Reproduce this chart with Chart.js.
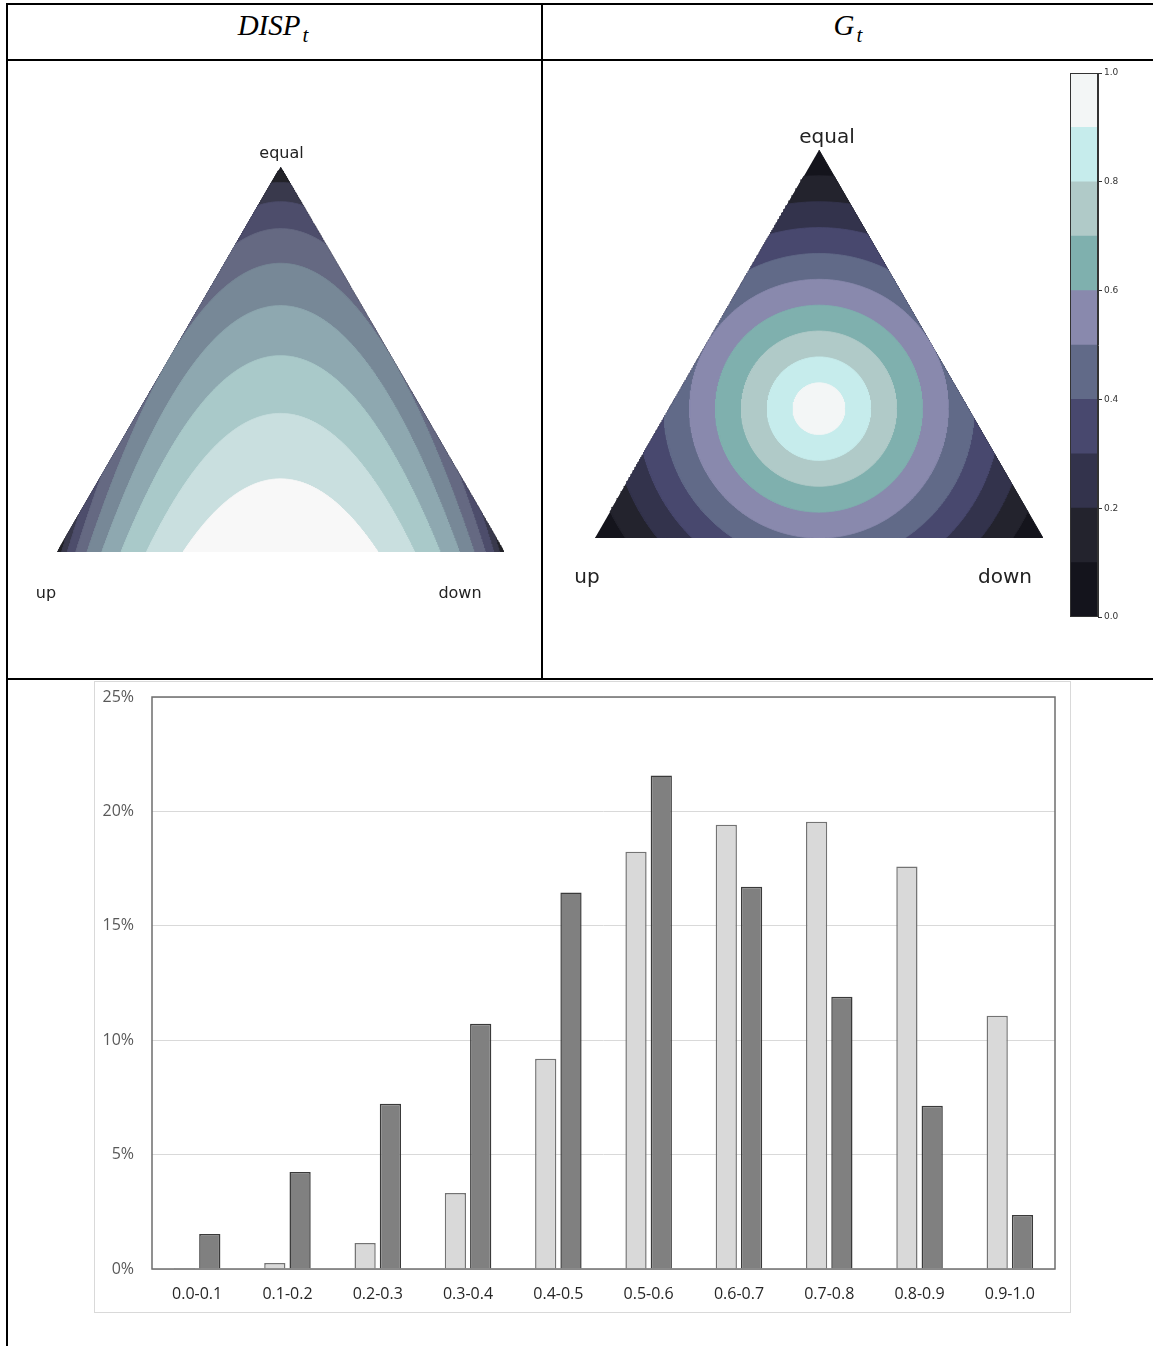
<!DOCTYPE html>
<html>
<head>
<meta charset="utf-8">
<script src="https://cdn.jsdelivr.net/npm/chart.js@4.4.1/dist/chart.umd.min.js"></script>
<style>
  html, body { margin: 0; padding: 0; background: #fff; }
  body { width: 1153px; height: 1346px; position: relative; overflow: hidden; }
  .rule { position: absolute; background: #000; }
  .pane { position: absolute; }
  .hdr { position: absolute; top: 9px; font-family: "Liberation Serif", "DejaVu Serif", serif;
         font-style: italic; font-size: 29px; line-height: 32px; color: #000; white-space: nowrap;
         transform: translateX(-50%); }
  .hdr sub { font-size: 21px; vertical-align: -7px; line-height: 0; margin-left: 2px; }
  .frame { position: absolute; left: 94px; top: 681px; width: 975px; height: 630px;
           border: 1px solid #d9d9d9; background: #fff; }
</style>
</head>
<body>
<!-- table rules -->
<div class="rule" style="left:6px;top:3px;width:1147px;height:2px"></div>
<div class="rule" style="left:6px;top:3px;width:2px;height:1343px"></div>
<div class="rule" style="left:541px;top:3px;width:2px;height:677px"></div>
<div class="rule" style="left:6px;top:59px;width:1147px;height:2px"></div>
<div class="rule" style="left:6px;top:678px;width:1147px;height:2px"></div>

<div class="hdr" style="left:273px">DISP<sub>t</sub></div>
<div class="hdr" style="left:848px">G<sub>t</sub></div>

<div class="pane" style="left:8px;top:62px"><canvas id="disp" width="532" height="616"></canvas></div>
<div class="pane" style="left:543px;top:62px"><canvas id="gini" width="517" height="616"></canvas></div>
<div class="pane" style="left:1062px;top:62px"><canvas id="cbar" width="90" height="570"></canvas></div>

<div class="frame"></div>
<div class="pane" style="left:95px;top:682px"><canvas id="bars" width="974" height="629"></canvas></div>

<script>
// ---- histogram data (share of observations, %) ----
const CATEGORIES = ['0.0-0.1', '0.1-0.2', '0.2-0.3', '0.3-0.4', '0.4-0.5',
                    '0.5-0.6', '0.6-0.7', '0.7-0.8', '0.8-0.9', '0.9-1.0'];
const SERIES_LIGHT = [0.04, 0.26, 1.14, 3.32, 9.19, 18.24, 19.42, 19.55, 17.59, 11.07];
const SERIES_DARK  = [1.53, 4.24, 7.22, 10.72, 16.45, 21.57, 16.71, 11.90, 7.13, 2.36];
const Y_TICKS = [0, 5, 10, 15, 20, 25];

// ---- contour levels and fill colours for the two ternary maps ----
const DISP_LEVELS = [0.0, 0.1, 0.2, 0.3, 0.4, 0.5, 0.6, 0.7, 0.8, 0.9];
const DISP_COLORS = ['#1b1b22', '#222228', '#39394c', '#4d4d6b', '#656982',
                     '#778897', '#8ea8b0', '#a9c9c9', '#c9dfdf', '#f8f8f8'];
const G_LEVELS = [0.0, 0.1, 0.2, 0.3, 0.4, 0.5, 0.6, 0.7, 0.8, 0.9];
const G_COLORS = ['#14141c', '#23232d', '#33334c', '#48486e', '#616a88',
                  '#8989ad', '#7fb0ae', '#b0cac8', '#c6ecec', '#f3f6f6'];
const CBAR_TICKS = [0.0, 0.2, 0.4, 0.6, 0.8, 1.0];
const VERTEX_LABELS = ['equal', 'up', 'down'];

const SQ3 = Math.sqrt(3);

// ternary (up, down, equal) -> plane; up bottom-left, down bottom-right, equal on top
function toXY(u, d, e) { return { x: d + e / 2, y: e * SQ3 / 2 }; }

const TRIANGLE = [toXY(1, 0, 0), toXY(0, 1, 0), toXY(0, 0, 1)];

// DISP = standard deviation of {+1 up, -1 down, 0 equal} = sqrt((u+d) - (u-d)^2).
// With s = u+d and w = u-d the region DISP >= L is |w| <= min(s, sqrt(s - L^2)).
function dispRegion(L) {
  if (L <= 0) return TRIANGLE.slice();
  const c = L * L, n = 700;
  const at = (s, w) => toXY((s + w) / 2, (s - w) / 2, 1 - s);
  const half = tau => {
    const s = c + (1 - c) * tau * tau;
    return [s, Math.min(s, Math.sqrt(Math.max(0, s - c)))];
  };
  const pts = [];
  for (let i = n; i >= 0; i--) { const [s, w] = half(i / n); pts.push(at(s, w)); }
  for (let i = 1; i <= n; i++) { const [s, w] = half(i / n); pts.push(at(s, -w)); }
  return pts;
}

// G = 1 - r/R (r: distance from the centroid, R: centroid-to-vertex); region G >= L
function giniRegion(L) {
  if (L <= 0) return TRIANGLE.slice();
  const cx = 0.5, cy = SQ3 / 6, inr = SQ3 / 6, R = 1 / SQ3;
  const rad = (1 - L) * R, normals = [-Math.PI / 2, Math.PI / 6, 5 * Math.PI / 6];
  const pts = [], n = 1440;
  for (let i = 0; i < n; i++) {
    const t = 2 * Math.PI * i / n;
    let m = -1;
    for (const p of normals) m = Math.max(m, Math.cos(t - p));
    const r = Math.min(rad, inr / m);
    pts.push({ x: cx + r * Math.cos(t), y: cy + r * Math.sin(t) });
  }
  return pts;
}

function ternaryChart(id, levels, colors, regionFn, pad, lab) {
  const datasets = levels.map((L, k) => ({
    data: regionFn(L),
    showLine: true,
    fill: 'shape',
    backgroundColor: colors[k],
    borderColor: colors[k],
    borderWidth: 1,
    pointRadius: 0,
    order: levels.length - k
  }));
  const labels = {
    id: 'vertexLabels',
    afterDraw(chart) {
      const { ctx, scales: { x, y } } = chart;
      const v = [TRIANGLE[2], TRIANGLE[0], TRIANGLE[1]];
      ctx.save();
      ctx.font = lab.size + 'px "DejaVu Sans"';
      ctx.fillStyle = '#222';
      ctx.textAlign = 'center';
      ctx.textBaseline = 'middle';
      VERTEX_LABELS.forEach((t, i) => {
        ctx.fillText(t, x.getPixelForValue(v[i].x) + lab.off[i][0],
                        y.getPixelForValue(v[i].y) + lab.off[i][1]);
      });
      ctx.restore();
    }
  };
  return new Chart(document.getElementById(id), {
    type: 'scatter',
    data: { datasets },
    options: {
      responsive: false, animation: false,
      layout: { padding: pad },
      scales: {
        x: { type: 'linear', min: 0, max: 1, display: false },
        y: { type: 'linear', min: 0, max: SQ3 / 2, display: false }
      },
      plugins: { legend: { display: false }, tooltip: { enabled: false } }
    },
    plugins: [labels]
  });
}

ternaryChart('disp', DISP_LEVELS, DISP_COLORS, dispRegion,
  { left: 49, right: 36, top: 105, bottom: 126 },
  { size: 16, off: [[1, -13], [-11, 42], [-44, 42]] });

ternaryChart('gini', G_LEVELS, G_COLORS, giniRegion,
  { left: 52, right: 17, top: 88, bottom: 140 },
  { size: 20, off: [[8, -12], [-8, 40], [-38, 40]] });

// colour bar for the G map
new Chart(document.getElementById('cbar'), {
  type: 'bar',
  data: {
    labels: [''],
    datasets: G_LEVELS.map((L, k) => ({
      data: [ (k + 1 < G_LEVELS.length ? G_LEVELS[k + 1] : 1) - L ],
      backgroundColor: G_COLORS[k],
      borderWidth: 0,
      barPercentage: 1, categoryPercentage: 1,
      stack: 'bar'
    }))
  },
  options: {
    responsive: false, animation: false,
    layout: { padding: { left: 8, top: 11, bottom: 15, right: 0 } },
    scales: {
      x: { stacked: true, display: false },
      y: {
        stacked: true, position: 'right', min: 0, max: 1,
        afterBuildTicks(s) { s.ticks = CBAR_TICKS.map(v => ({ value: v })); },
        afterFit(s) { s.width = 54; },
        ticks: { callback: v => v.toFixed(1), font: { family: 'DejaVu Sans', size: 9 }, color: '#333', padding: 2 },
        grid: { drawOnChartArea: false, tickLength: 4, color: '#333', lineWidth: 1 },
        border: { color: '#333', width: 1 }
      }
    },
    plugins: { legend: { display: false }, tooltip: { enabled: false } }
  },
  plugins: [{
    id: 'outline',
    afterDraw(chart) {
      const a = chart.chartArea, ctx = chart.ctx;
      ctx.save();
      ctx.strokeStyle = '#333';
      ctx.lineWidth = 1;
      ctx.strokeRect(a.left + 0.5, a.top + 0.5, a.right - a.left - 1, a.bottom - a.top - 1);
      ctx.restore();
    }
  }]
});

// histogram
new Chart(document.getElementById('bars'), {
  type: 'bar',
  data: {
    labels: CATEGORIES,
    datasets: [
      { data: SERIES_LIGHT, backgroundColor: '#d9d9d9', borderColor: '#737373', borderWidth: 1.5 },
      { data: SERIES_DARK, backgroundColor: '#808080', borderColor: '#3a3a3a', borderWidth: 1.5 }
    ]
  },
  options: {
    responsive: false, animation: false,
    layout: { padding: { top: 15, right: 14, left: 0, bottom: 0 } },
    datasets: { bar: { categoryPercentage: 0.56, barPercentage: 0.84 } },
    scales: {
      x: {
        afterFit(s) { s.height = 42; s.paddingLeft = 0; s.paddingRight = 0; },
        grid: { display: false, drawTicks: false },
        border: { display: false },
        ticks: { color: '#262626', font: { family: 'Open Sans', size: 16 }, padding: 16, maxRotation: 0 }
      },
      y: {
        min: 0, max: 25,
        afterFit(s) { s.width = 57; s.paddingTop = 0; s.paddingBottom = 0; },
        afterBuildTicks(s) { s.ticks = Y_TICKS.map(v => ({ value: v })); },
        grid: { color: '#d9d9d9', lineWidth: 1, drawTicks: false },
        border: { display: false },
        ticks: { callback: v => v + '%', color: '#595959', font: { family: 'Open Sans', size: 16 }, padding: 18 }
      }
    },
    plugins: { legend: { display: false }, tooltip: { enabled: false } }
  },
  plugins: [{
    id: 'plotFrame',
    afterDatasetsDraw(chart) {
      const a = chart.chartArea, ctx = chart.ctx;
      ctx.save();
      ctx.strokeStyle = '#6e6e6e';
      ctx.lineWidth = 1.5;
      ctx.strokeRect(a.left, a.top, a.right - a.left, a.bottom - a.top);
      ctx.restore();
    }
  }]
});
</script>
</body>
</html>
